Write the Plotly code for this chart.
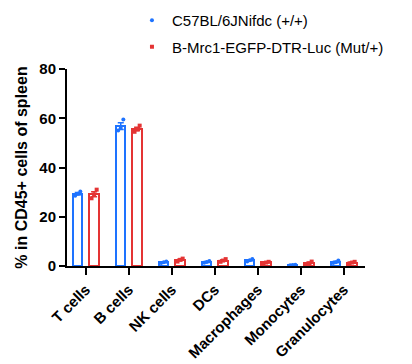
import numpy as np
import plotly.graph_objects as go

categories = ["T cells", "B cells", "NK cells", "DCs", "Macrophages", "Monocytes", "Granulocytes"]
wt_name = "C57BL/6JNifdc (+/+)"
mut_name = "B-Mrc1-EGFP-DTR-Luc (Mut/+)"
wt_points = [
    [28.5, 29.3, 30.3],
    [55.0, 56.0, 59.5],
    [1.2, 1.5, 1.8],
    [1.3, 1.6, 2.0],
    [1.8, 2.3, 2.8],
    [0.3, 0.4, 0.5],
    [1.2, 1.5, 2.2],
]
mut_points = [
    [27.5, 29.0, 31.0],
    [54.5, 55.5, 57.0],
    [1.8, 2.5, 3.0],
    [1.7, 2.2, 2.8],
    [1.2, 1.4, 1.7],
    [0.7, 1.1, 1.8],
    [1.1, 1.4, 1.7],
]
y_ticks = [0, 20, 40, 60, 80]

BLUE = "rgb(30,115,255)"
RED = "rgb(228,52,52)"
FONT = "Arial, Liberation Sans, sans-serif"

idx = np.arange(len(categories))
off = 0.19
bw = 0.22
jit = np.array([-0.06, 0.0, 0.06])

fig = go.Figure()
for pts, color, sym, name, sgn, grp in [
    (wt_points, BLUE, "circle", wt_name, -1, "a"),
    (mut_points, RED, "square", mut_name, 1, "b"),
]:
    arr = np.array(pts)
    mean = arr.mean(axis=1)
    sem = arr.std(axis=1, ddof=1) / np.sqrt(arr.shape[1])
    xs = idx + sgn * off
    fig.add_trace(go.Bar(
        x=xs, y=mean, width=bw, showlegend=False,
        marker=dict(color="white", line=dict(color=color, width=2)),
        error_y=dict(type="data", array=sem, color=color, thickness=1.5, width=3),
        hoverinfo="skip",
    ))
    px = (xs[:, None] + jit[None, :]).ravel()
    py = arr.ravel()
    fig.add_trace(go.Scatter(
        x=px, y=py, mode="markers", name=name, legendgroup=grp,
        marker=dict(color=color, symbol=sym, size=4),
    ))

fig.update_layout(
    width=404, height=356,
    margin=dict(l=59, r=47, t=61, b=98, autoexpand=False),
    plot_bgcolor="white", paper_bgcolor="white",
    font=dict(family=FONT, color="black"),
    showlegend=True,
    legend=dict(x=0.218, y=1.33, xanchor="left", yanchor="top",
                font=dict(size=15, family=FONT), tracegroupgap=4,
                bgcolor="rgba(0,0,0,0)"),
    bargap=0,
)
fig.update_xaxes(
    range=[-0.44, 6.49], tickvals=list(idx), ticktext=categories,
    tickangle=-45, tickfont=dict(size=15, family=FONT, weight="bold"),
    showline=True, linecolor="black", linewidth=2,
    ticks="outside", ticklen=7, tickwidth=2, tickcolor="black",
    showgrid=False, zeroline=False,
)
fig.update_yaxes(
    range=[0, 80], tickvals=y_ticks,
    tickfont=dict(size=15, family=FONT, weight="bold"),
    title=dict(text="% in CD45+ cells of spleen", font=dict(size=16, family=FONT, weight="bold"), standoff=8),
    showline=True, linecolor="black", linewidth=2,
    ticks="outside", ticklen=6, tickwidth=2, tickcolor="black",
    showgrid=False, zeroline=False,
)
fig.write_html("out.html")
